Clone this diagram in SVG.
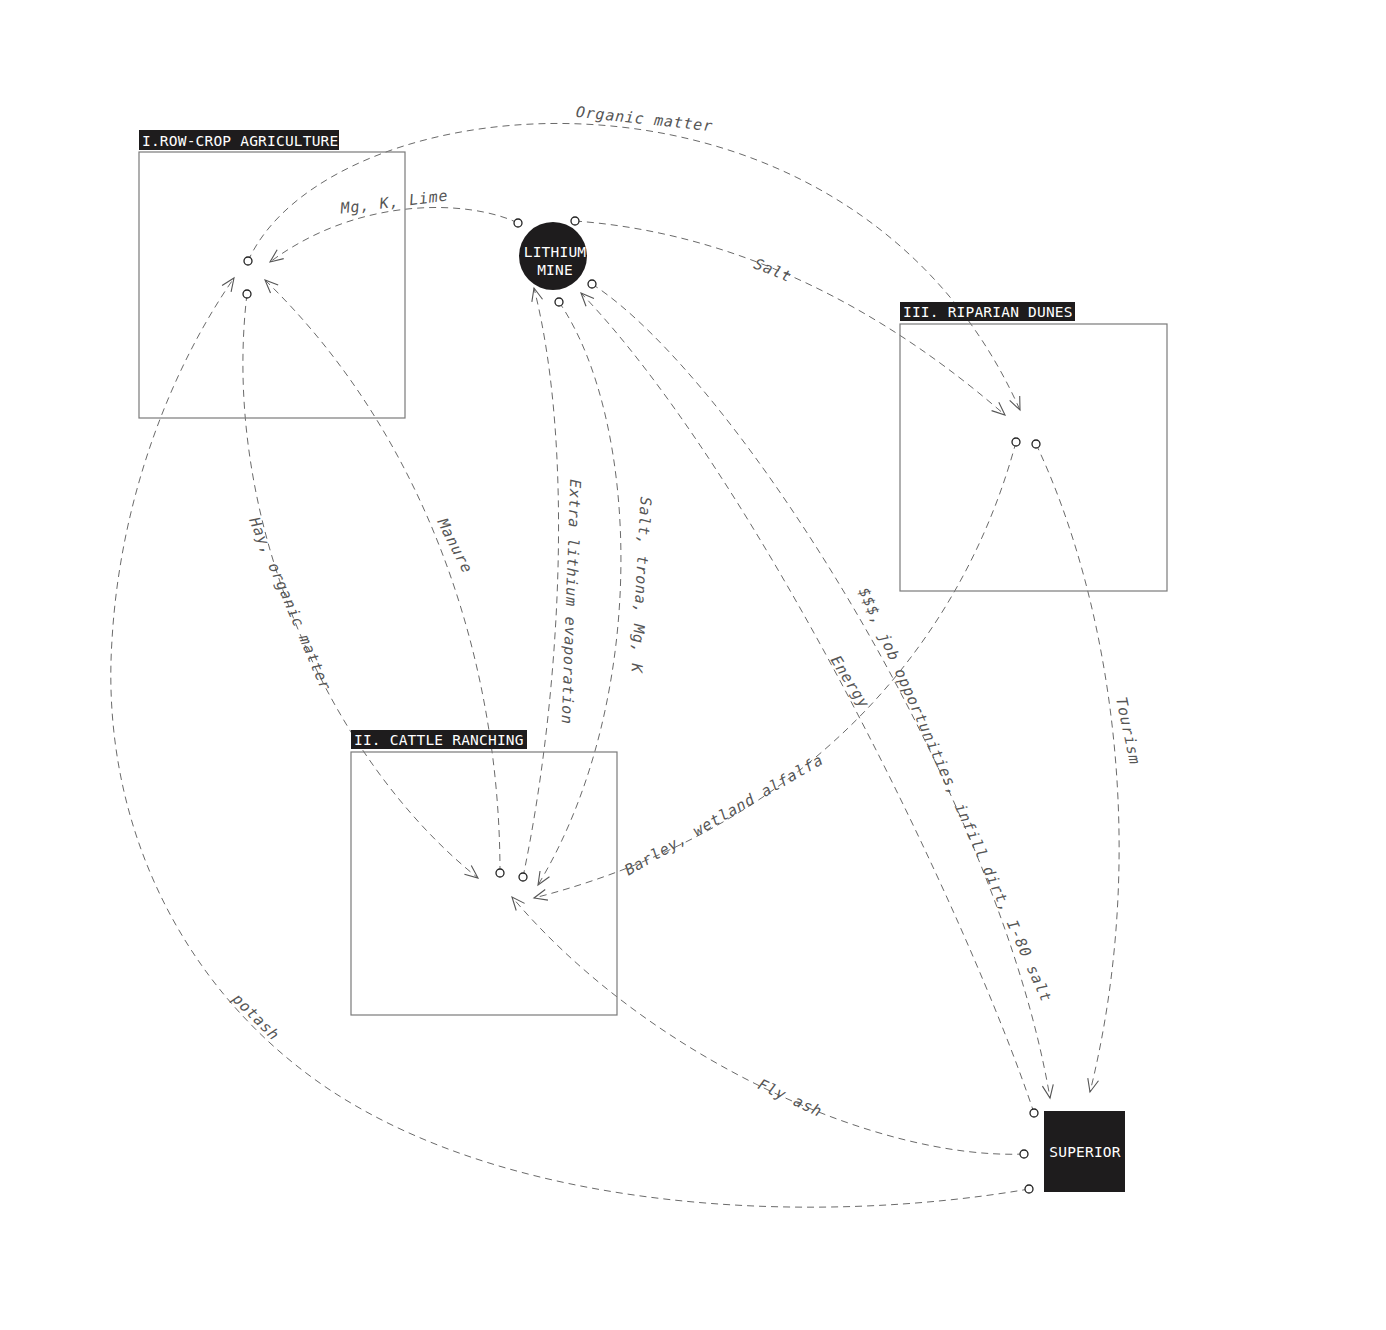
<svg xmlns="http://www.w3.org/2000/svg" width="1386" height="1330" viewBox="0 0 1386 1330">
<defs>
<style>
.bg{fill:#fff}
.box{fill:none;stroke:#7a7a7a;stroke-width:1.2}
.tagbg{fill:#1e1c1d}
.tag{font-family:"DejaVu Sans Mono","Liberation Mono",monospace;font-size:14.5px;letter-spacing:0.2px;fill:#fff}
.port{fill:#fff;stroke:#222;stroke-width:1.3}
.conn{fill:none;stroke:#6a6a6a;stroke-width:1;stroke-dasharray:7 5;marker-end:url(#arr)}
.lbl{font-family:"DejaVu Sans Mono","Liberation Mono",monospace;font-size:15px;letter-spacing:0.8px;font-style:italic;fill:#555;text-anchor:middle}
</style>
<marker id="arr" markerUnits="userSpaceOnUse" viewBox="-14 -8 16 16" markerWidth="16" markerHeight="16" refX="0" refY="0" orient="auto">
<path d="M-13,-5.5 L0,0 L-13,5.5" fill="none" stroke="#555" stroke-width="1.1" stroke-dasharray="none"/>
</marker>
</defs>
<rect class="bg" x="0" y="0" width="1386" height="1330"/>

<g id="connectors">
<path id="c-organic" class="conn" d="M248,261 C330,80 850,30 1020,410"/>
<path id="c-mgk" class="conn" d="M518,223 C470,200 360,195 270,262"/>
<path id="c-salt" class="conn" d="M575,221 C700,230 850,280 1005,415"/>
<path id="c-hay" class="conn" d="M247,294 C220,520 330,760 478,878"/>
<path id="c-manure" class="conn" d="M500,873 C500,650 420,430 265,280"/>
<path id="c-extra" class="conn" d="M523,877 C560,700 575,450 534,288"/>
<path id="c-trona" class="conn" d="M559,302 C640,420 650,700 538,885"/>
<path id="c-barley" class="conn" d="M1016,442 C960,650 800,830 534,898"/>
<path id="c-tourism" class="conn" d="M1036,444 C1110,600 1150,850 1090,1092"/>
<path id="c-energy" class="conn" d="M1034,1113 C970,920 760,480 581,293"/>
<path id="c-money" class="conn" d="M592,284 C740,380 1000,800 1050,1098"/>
<path id="c-flyash" class="conn" d="M1024,1154 C880,1160 650,1060 512,897"/>
<path id="c-potash" class="conn" d="M1029,1189 C820,1225 520,1215 330,1090 C180,990 100,820 112,640 C120,500 170,370 234,278"/>

<text class="lbl" x="644" y="124" transform="rotate(6 644 124)">Organic matter</text>
<text class="lbl" x="395" y="207" transform="rotate(-7 395 207)">Mg, K, Lime</text>
<text class="lbl" x="771" y="275" transform="rotate(22 771 275)">Salt</text>
<text class="lbl" x="290" y="609" transform="rotate(67 290 604)">Hay, organic matter</text>
<text class="lbl" x="455" y="551" transform="rotate(63 455 546)">Manure</text>
<text class="lbl" x="571" y="607" transform="rotate(92 571 602)">Extra lithium evaporation</text>
<text class="lbl" x="641" y="590" transform="rotate(93 641 585)">Salt, trona, Mg, K</text>
<text class="lbl" x="724" y="820" transform="rotate(-30 724 815)">Barley, wetland alfalfa</text>
<text class="lbl" x="1128" y="736" transform="rotate(78 1128 731)">Tourism</text>
<text class="lbl" x="850" y="687" transform="rotate(58 850 682)">Energy</text>
<text class="lbl" x="955" y="800" transform="rotate(66 955 795)">$$$, job opportunities, infill dirt, I-80 salt</text>
<text class="lbl" x="790" y="1103" transform="rotate(25 790 1098)">Fly ash</text>
<text class="lbl" x="256" y="1022" transform="rotate(45 256 1017)">potash</text>
</g>

<g id="row-crop">
<rect class="box" x="139" y="152" width="266" height="266"/>
<rect class="tagbg" x="139" y="130" width="200" height="20"/>
<text class="tag" x="142" y="145.5">I.ROW-CROP AGRICULTURE</text>
<circle class="port" cx="248" cy="261" r="4"/>
<circle class="port" cx="247" cy="294" r="4"/>
</g>

<g id="lithium-mine">
<circle cx="553" cy="256" r="34" fill="#1e1c1d"/>
<text class="tag" x="555" y="257" text-anchor="middle">LITHIUM</text>
<text class="tag" x="555" y="275" text-anchor="middle">MINE</text>
<circle class="port" cx="518" cy="223" r="4"/>
<circle class="port" cx="575" cy="221" r="4"/>
<circle class="port" cx="592" cy="284" r="4"/>
<circle class="port" cx="559" cy="302" r="4"/>
</g>

<g id="riparian-dunes">
<rect class="box" x="900" y="324" width="267" height="267"/>
<rect class="tagbg" x="900" y="302" width="175" height="19"/>
<text class="tag" x="903" y="317">III. RIPARIAN DUNES</text>
<circle class="port" cx="1016" cy="442" r="4"/>
<circle class="port" cx="1036" cy="444" r="4"/>
</g>

<g id="cattle-ranching">
<rect class="box" x="351" y="752" width="266" height="263"/>
<rect class="tagbg" x="351" y="730" width="176" height="19"/>
<text class="tag" x="354" y="745">II. CATTLE RANCHING</text>
<circle class="port" cx="500" cy="873" r="4"/>
<circle class="port" cx="523" cy="877" r="4"/>
</g>

<g id="superior">
<rect x="1044" y="1111" width="81" height="81" fill="#1e1c1d"/>
<text class="tag" x="1085" y="1157" text-anchor="middle">SUPERIOR</text>
<circle class="port" cx="1034" cy="1113" r="4"/>
<circle class="port" cx="1024" cy="1154" r="4"/>
<circle class="port" cx="1029" cy="1189" r="4"/>
</g>
</svg>
